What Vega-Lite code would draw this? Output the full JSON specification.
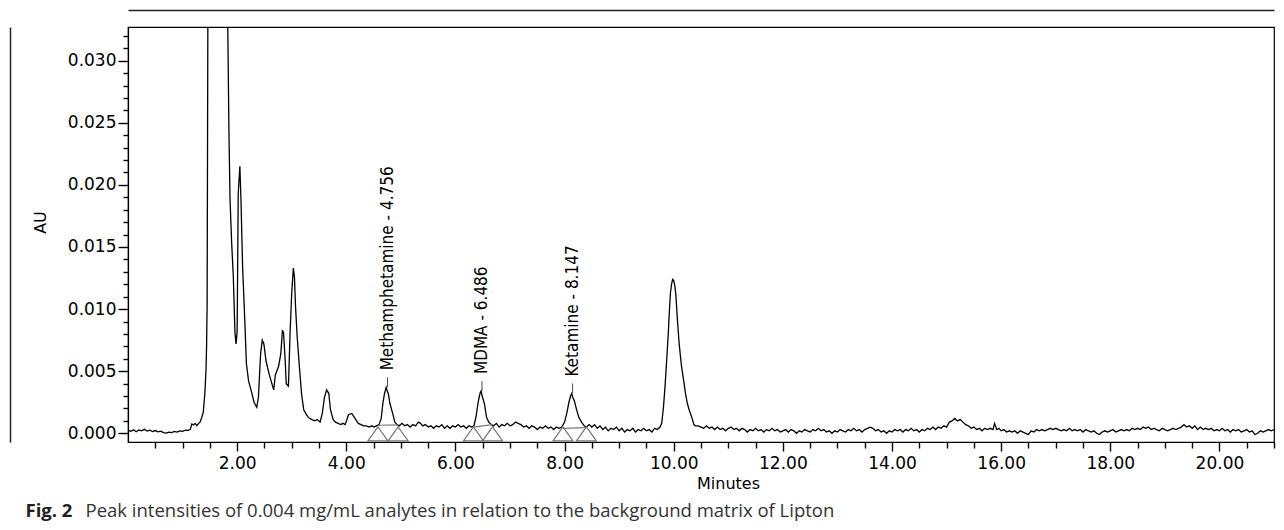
{
  "$schema": "https://vega.github.io/schema/vega-lite/v6.json",
  "autosize": {"type": "none"},
  "padding": {"left": 128, "top": 27, "right": 10, "bottom": 88},
  "width": 1146,
  "height": 415,
  "background": "white",
  "datasets": {
    "trace": [
      {"t":0,"v":0.00025},{"t":0.05,"v":0.00016},{"t":0.1,"v":0.00028},{"t":0.15,"v":0.00012},{"t":0.2,"v":0.00026},
      {"t":0.25,"v":0.0002},{"t":0.3,"v":0.00032},{"t":0.35,"v":0.00018},{"t":0.4,"v":0.00025},{"t":0.45,"v":0.00014},
      {"t":0.5,"v":0.00022},{"t":0.55,"v":0.00012},{"t":0.6,"v":0.00017},{"t":0.65,"v":0.00006},{"t":0.7,"v":0.00002},
      {"t":0.75,"v":0.0001},{"t":0.8,"v":0.00005},{"t":0.85,"v":0.00015},{"t":0.9,"v":0.0001},{"t":0.95,"v":0.0002},
      {"t":1,"v":0.00016},{"t":1.05,"v":0.00026},{"t":1.1,"v":0.00024},{"t":1.14,"v":0.0003},{"t":1.17,"v":0.00075},
      {"t":1.2,"v":0.00068},{"t":1.23,"v":0.0008},{"t":1.26,"v":0.00062},{"t":1.29,"v":0.00078},{"t":1.32,"v":0.0009},
      {"t":1.35,"v":0.00125},{"t":1.38,"v":0.0017},{"t":1.41,"v":0.0033},{"t":1.43,"v":0.0052},{"t":1.44,"v":0.007},
      {"t":1.45,"v":0.0105},{"t":1.455,"v":0.019},{"t":1.465,"v":0.036},{"t":1.55,"v":0.05},{"t":1.65,"v":0.06},
      {"t":1.75,"v":0.05},{"t":1.815,"v":0.038},{"t":1.83,"v":0.032},{"t":1.85,"v":0.0242},{"t":1.87,"v":0.0188},
      {"t":1.9,"v":0.0153},{"t":1.93,"v":0.0126},{"t":1.96,"v":0.0081},{"t":1.98,"v":0.0072},{"t":2,"v":0.0082},
      {"t":2.02,"v":0.0193},{"t":2.05,"v":0.0215},{"t":2.07,"v":0.0188},{"t":2.1,"v":0.0134},{"t":2.14,"v":0.0091},
      {"t":2.17,"v":0.0056},{"t":2.21,"v":0.0042},{"t":2.26,"v":0.0034},{"t":2.31,"v":0.0025},{"t":2.36,"v":0.0021},
      {"t":2.39,"v":0.0029},{"t":2.43,"v":0.0064},{"t":2.46,"v":0.0075},{"t":2.49,"v":0.0072},{"t":2.53,"v":0.0058},
      {"t":2.59,"v":0.0047},{"t":2.65,"v":0.0038},{"t":2.67,"v":0.0035},{"t":2.7,"v":0.0047},{"t":2.76,"v":0.0054},
      {"t":2.8,"v":0.0064},{"t":2.83,"v":0.0083},{"t":2.85,"v":0.0081},{"t":2.88,"v":0.0059},{"t":2.9,"v":0.004},
      {"t":2.94,"v":0.0038},{"t":2.97,"v":0.0081},{"t":3,"v":0.0113},{"t":3.03,"v":0.0133},{"t":3.05,"v":0.0126},
      {"t":3.07,"v":0.0102},{"t":3.1,"v":0.0078},{"t":3.14,"v":0.0054},{"t":3.18,"v":0.0032},{"t":3.22,"v":0.0019},
      {"t":3.27,"v":0.0015},{"t":3.3,"v":0.0013},{"t":3.33,"v":0.0012},{"t":3.37,"v":0.0011},{"t":3.42,"v":0.001},
      {"t":3.47,"v":0.0011},{"t":3.52,"v":0.0009},{"t":3.56,"v":0.0016},{"t":3.6,"v":0.0029},{"t":3.64,"v":0.0035},
      {"t":3.68,"v":0.0032},{"t":3.71,"v":0.0019},{"t":3.76,"v":0.0011},{"t":3.8,"v":0.0009},{"t":3.85,"v":0.0008},
      {"t":3.9,"v":0.0007},{"t":3.94,"v":0.0008},{"t":3.98,"v":0.0007},{"t":4.04,"v":0.0015},{"t":4.1,"v":0.0016},
      {"t":4.16,"v":0.0012},{"t":4.22,"v":0.0008},{"t":4.27,"v":0.0007},{"t":4.32,"v":0.0006},{"t":4.37,"v":0.0006},
      {"t":4.42,"v":0.0005},{"t":4.47,"v":0.0006},{"t":4.51,"v":0.0005},{"t":4.55,"v":0.0006},{"t":4.6,"v":0.0007},
      {"t":4.64,"v":0.0012},{"t":4.67,"v":0.0024},{"t":4.7,"v":0.0032},{"t":4.73,"v":0.0037},{"t":4.75,"v":0.0034},
      {"t":4.77,"v":0.0032},{"t":4.8,"v":0.0024},{"t":4.85,"v":0.0016},{"t":4.89,"v":0.0009},{"t":4.93,"v":0.0007},
      {"t":4.97,"v":0.0006},{"t":5.02,"v":0.0008},{"t":5.07,"v":0.0006},{"t":5.12,"v":0.0007},{"t":5.17,"v":0.0005},
      {"t":5.22,"v":0.0007},{"t":5.27,"v":0.0006},{"t":5.32,"v":0.0009},{"t":5.36,"v":0.0008},{"t":5.4,"v":0.0006},
      {"t":5.45,"v":0.0007},{"t":5.5,"v":0.0005},{"t":5.55,"v":0.0006},{"t":5.6,"v":0.0004},{"t":5.65,"v":0.0006},
      {"t":5.7,"v":0.0005},{"t":5.75,"v":0.0007},{"t":5.8,"v":0.0004},{"t":5.85,"v":0.0006},{"t":5.9,"v":0.0004},
      {"t":5.95,"v":0.0006},{"t":6,"v":0.0005},{"t":6.05,"v":0.0007},{"t":6.1,"v":0.0005},{"t":6.15,"v":0.0006},
      {"t":6.2,"v":0.0004},{"t":6.25,"v":0.0006},{"t":6.3,"v":0.0005},{"t":6.34,"v":0.0006},{"t":6.38,"v":0.0014},
      {"t":6.42,"v":0.0026},{"t":6.45,"v":0.0032},{"t":6.47,"v":0.0034},{"t":6.49,"v":0.003},{"t":6.51,"v":0.0027},
      {"t":6.53,"v":0.0024},{"t":6.57,"v":0.0013},{"t":6.61,"v":0.0009},{"t":6.66,"v":0.0007},{"t":6.7,"v":0.0006},
      {"t":6.75,"v":0.0008},{"t":6.8,"v":0.0005},{"t":6.85,"v":0.0007},{"t":6.9,"v":0.0006},{"t":6.95,"v":0.0008},
      {"t":7,"v":0.0006},{"t":7.05,"v":0.0007},{"t":7.1,"v":0.0009},{"t":7.15,"v":0.0008},{"t":7.2,"v":0.0007},
      {"t":7.25,"v":0.0005},{"t":7.3,"v":0.0006},{"t":7.35,"v":0.0004},{"t":7.4,"v":0.0006},{"t":7.45,"v":0.0005},
      {"t":7.5,"v":0.0003},{"t":7.55,"v":0.0005},{"t":7.6,"v":0.0004},{"t":7.65,"v":0.0006},{"t":7.7,"v":0.0004},
      {"t":7.75,"v":0.0005},{"t":7.8,"v":0.0003},{"t":7.85,"v":0.0005},{"t":7.9,"v":0.0004},{"t":7.95,"v":0.0005},
      {"t":8,"v":0.0009},{"t":8.04,"v":0.0016},{"t":8.08,"v":0.0025},{"t":8.11,"v":0.003},{"t":8.13,"v":0.0032},
      {"t":8.15,"v":0.0029},{"t":8.18,"v":0.0026},{"t":8.22,"v":0.0019},{"t":8.26,"v":0.0013},{"t":8.31,"v":0.0009},
      {"t":8.36,"v":0.0006},{"t":8.4,"v":0.0005},{"t":8.45,"v":0.0007},{"t":8.5,"v":0.0005},{"t":8.55,"v":0.0007},
      {"t":8.6,"v":0.0004},{"t":8.65,"v":0.0006},{"t":8.7,"v":0.0003},{"t":8.75,"v":0.0005},{"t":8.8,"v":0.0002},
      {"t":8.85,"v":0.0004},{"t":8.9,"v":0.0003},{"t":8.95,"v":0.0005},{"t":9,"v":0.0002},{"t":9.05,"v":0.0004},
      {"t":9.1,"v":0.0001},{"t":9.15,"v":0.0003},{"t":9.2,"v":0.0002},{"t":9.25,"v":0.0004},{"t":9.3,"v":0.0001},
      {"t":9.35,"v":0.0003},{"t":9.4,"v":0.0002},{"t":9.45,"v":0.0004},{"t":9.5,"v":0.0002},{"t":9.55,"v":0.0003},
      {"t":9.6,"v":0.0001},{"t":9.65,"v":0.0004},{"t":9.7,"v":0.0003},{"t":9.75,"v":0.0005},{"t":9.78,"v":0.0008},
      {"t":9.81,"v":0.002},{"t":9.84,"v":0.0037},{"t":9.87,"v":0.0058},{"t":9.9,"v":0.008},{"t":9.92,"v":0.0098},
      {"t":9.94,"v":0.0113},{"t":9.96,"v":0.012},{"t":9.98,"v":0.0124},{"t":10,"v":0.0123},{"t":10.02,"v":0.0119},
      {"t":10.04,"v":0.0111},{"t":10.07,"v":0.009},{"t":10.1,"v":0.0072},{"t":10.14,"v":0.0055},{"t":10.18,"v":0.0043},
      {"t":10.22,"v":0.0031},{"t":10.25,"v":0.0024},{"t":10.29,"v":0.0018},{"t":10.33,"v":0.0013},{"t":10.37,"v":0.0007},
      {"t":10.4,"v":0.0006},{"t":10.45,"v":0.0006},{"t":10.5,"v":0.0005},{"t":10.55,"v":0.0004},{"t":10.6,"v":0.0006},
      {"t":10.65,"v":0.0004},{"t":10.7,"v":0.0005},{"t":10.75,"v":0.0003},{"t":10.8,"v":0.0005},{"t":10.85,"v":0.0003},
      {"t":10.9,"v":0.0004},{"t":10.95,"v":0.0002},{"t":11,"v":0.0004},{"t":11.05,"v":0.0005},{"t":11.1,"v":0.0003},
      {"t":11.15,"v":0.0004},{"t":11.2,"v":0.0002},{"t":11.25,"v":0.0004},{"t":11.3,"v":0.0003},{"t":11.35,"v":0.0001},
      {"t":11.4,"v":0.0003},{"t":11.45,"v":0.0002},{"t":11.5,"v":0.0004},{"t":11.55,"v":0.0002},{"t":11.6,"v":0.0003},
      {"t":11.65,"v":0.0001},{"t":11.7,"v":0.0003},{"t":11.75,"v":0.0002},{"t":11.8,"v":0.0004},{"t":11.85,"v":0.0002},
      {"t":11.9,"v":0.0003},{"t":11.95,"v":0.0001},{"t":12,"v":0.0002},{"t":12.05,"v":0.0003},{"t":12.1,"v":0.0001},
      {"t":12.15,"v":0.0003},{"t":12.2,"v":0.0002},{"t":12.25,"v":0},{"t":12.3,"v":0.0002},{"t":12.35,"v":0.0001},
      {"t":12.4,"v":0.0003},{"t":12.45,"v":0.0002},{"t":12.5,"v":0.0001},{"t":12.55,"v":0.0003},{"t":12.6,"v":0.0002},
      {"t":12.65,"v":0.0004},{"t":12.7,"v":0.0002},{"t":12.75,"v":0.0003},{"t":12.8,"v":0.0001},{"t":12.85,"v":0.0002},
      {"t":12.9,"v":0},{"t":12.95,"v":0.0002},{"t":13,"v":0.0001},{"t":13.05,"v":0.0003},{"t":13.1,"v":0.0002},
      {"t":13.15,"v":0.0001},{"t":13.2,"v":0.0003},{"t":13.25,"v":0.0002},{"t":13.3,"v":0.0004},{"t":13.35,"v":0.0002},
      {"t":13.4,"v":0.0003},{"t":13.45,"v":0.0001},{"t":13.5,"v":0.0003},{"t":13.55,"v":0.0004},{"t":13.6,"v":0.0005},
      {"t":13.65,"v":0.0004},{"t":13.7,"v":0.0002},{"t":13.75,"v":0.0003},{"t":13.8,"v":0.0001},{"t":13.85,"v":0.0002},
      {"t":13.9,"v":0},{"t":13.95,"v":0.0002},{"t":14,"v":0.0001},{"t":14.05,"v":0.0003},{"t":14.1,"v":0.0002},
      {"t":14.15,"v":0.0003},{"t":14.2,"v":0.0001},{"t":14.25,"v":0.0003},{"t":14.3,"v":0.0002},{"t":14.35,"v":0.0004},
      {"t":14.4,"v":0.0002},{"t":14.45,"v":0.0003},{"t":14.5,"v":0.0001},{"t":14.55,"v":0.0003},{"t":14.6,"v":0.0002},
      {"t":14.65,"v":0.0004},{"t":14.7,"v":0.0003},{"t":14.75,"v":0.0005},{"t":14.8,"v":0.0003},{"t":14.85,"v":0.0005},
      {"t":14.9,"v":0.0004},{"t":14.95,"v":0.0006},{"t":15,"v":0.0005},{"t":15.05,"v":0.0009},{"t":15.1,"v":0.001},
      {"t":15.15,"v":0.0012},{"t":15.2,"v":0.001},{"t":15.25,"v":0.0011},{"t":15.3,"v":0.0009},{"t":15.35,"v":0.0007},
      {"t":15.4,"v":0.0006},{"t":15.45,"v":0.0004},{"t":15.5,"v":0.0005},{"t":15.55,"v":0.0003},{"t":15.6,"v":0.0004},
      {"t":15.65,"v":0.0002},{"t":15.7,"v":0.0004},{"t":15.75,"v":0.0003},{"t":15.8,"v":0.0004},{"t":15.85,"v":0.0003},
      {"t":15.88,"v":0.0008},{"t":15.92,"v":0.0003},{"t":15.96,"v":0.0004},{"t":16,"v":0.0002},{"t":16.05,"v":0.0003},
      {"t":16.1,"v":0.0001},{"t":16.15,"v":0.0002},{"t":16.2,"v":0.0001},{"t":16.25,"v":0.0002},{"t":16.3,"v":0},
      {"t":16.35,"v":0.0002},{"t":16.4,"v":0.0001},{"t":16.45,"v":0},{"t":16.5,"v":-0.0001},{"t":16.55,"v":0.0002},
      {"t":16.6,"v":0.0001},{"t":16.65,"v":0.0003},{"t":16.7,"v":0.0002},{"t":16.75,"v":0.0003},{"t":16.8,"v":0.0002},
      {"t":16.85,"v":0.0003},{"t":16.9,"v":0.0004},{"t":16.95,"v":0.0003},{"t":17,"v":0.0004},{"t":17.05,"v":0.0003},
      {"t":17.1,"v":0.0002},{"t":17.15,"v":0.0003},{"t":17.2,"v":0.0002},{"t":17.25,"v":0.0004},{"t":17.3,"v":0.0002},
      {"t":17.35,"v":0.0003},{"t":17.4,"v":0.0002},{"t":17.45,"v":0.0003},{"t":17.5,"v":0.0001},{"t":17.55,"v":0.0003},
      {"t":17.6,"v":0.0002},{"t":17.65,"v":0.0001},{"t":17.7,"v":0.0002},{"t":17.75,"v":0},{"t":17.8,"v":-0.0001},
      {"t":17.85,"v":0.0001},{"t":17.9,"v":0.0002},{"t":17.95,"v":0.0001},{"t":18,"v":0.0002},{"t":18.05,"v":0.0003},
      {"t":18.1,"v":0.0001},{"t":18.15,"v":0.0002},{"t":18.2,"v":0.0003},{"t":18.25,"v":0.0002},{"t":18.3,"v":0.0003},
      {"t":18.35,"v":0.0002},{"t":18.4,"v":0.0004},{"t":18.45,"v":0.0003},{"t":18.5,"v":0.0004},{"t":18.55,"v":0.0003},
      {"t":18.6,"v":0.0005},{"t":18.65,"v":0.0004},{"t":18.7,"v":0.0005},{"t":18.75,"v":0.0003},{"t":18.8,"v":0.0004},
      {"t":18.85,"v":0.0003},{"t":18.9,"v":0.0002},{"t":18.95,"v":0.0004},{"t":19,"v":0.0003},{"t":19.05,"v":0.0002},
      {"t":19.1,"v":0.0003},{"t":19.15,"v":0.0004},{"t":19.2,"v":0.0003},{"t":19.25,"v":0.0004},{"t":19.3,"v":0.0005},
      {"t":19.35,"v":0.0007},{"t":19.4,"v":0.0005},{"t":19.45,"v":0.0006},{"t":19.5,"v":0.0004},{"t":19.55,"v":0.0006},
      {"t":19.6,"v":0.0003},{"t":19.65,"v":0.0005},{"t":19.7,"v":0.0003},{"t":19.75,"v":0.0004},{"t":19.8,"v":0.0003},
      {"t":19.85,"v":0.0004},{"t":19.9,"v":0.0002},{"t":19.95,"v":0.0003},{"t":20,"v":0.0002},{"t":20.05,"v":0.0004},
      {"t":20.1,"v":0.0002},{"t":20.15,"v":0.0003},{"t":20.2,"v":0.0001},{"t":20.25,"v":0.0003},{"t":20.3,"v":0.0002},
      {"t":20.35,"v":0.0003},{"t":20.4,"v":0.0001},{"t":20.45,"v":0.0002},{"t":20.5,"v":0.0003},{"t":20.55,"v":0.0001},
      {"t":20.6,"v":0.0002},{"t":20.65,"v":-0.0001},{"t":20.7,"v":0},{"t":20.75,"v":0.0002},{"t":20.8,"v":0.0001},
      {"t":20.85,"v":0.0002},{"t":20.9,"v":0.0003},{"t":20.95,"v":0.0002},{"t":21,"v":0.0003}
    ],
    "peaks": [
      {"label":"Methamphetamine - 4.756","rt":4.756,"apex":0.0037,"start":4.58,"end":4.95,"b1":0.00065,"b2":0.00068},
      {"label":"MDMA - 6.486","rt":6.486,"apex":0.0034,"start":6.33,"end":6.68,"b1":0.0005,"b2":0.0007},
      {"label":"Ketamine - 8.147","rt":8.147,"apex":0.0032,"start":7.97,"end":8.4,"b1":0.0004,"b2":0.00045}
    ]
  },
  "config": {
    "view": {"stroke": "black", "strokeWidth": 1.2},
    "axis": {
      "grid": false,
      "domainColor": "black",
      "domainWidth": 1.2,
      "tickColor": "black",
      "tickWidth": 1.4,
      "labelColor": "black",
      "labelFont": "DejaVu Sans",
      "labelFontSize": 17,
      "titleFont": "DejaVu Sans",
      "titleFontSize": 16,
      "titleFontWeight": "normal",
      "titleColor": "black"
    }
  },
  "resolve": {"axis": {"x": "independent", "y": "independent"}},
  "layer": [
    {
      "data": {"name": "trace"},
      "mark": {"type": "line", "color": "black", "strokeWidth": 1.3, "clip": true},
      "encoding": {
        "x": {
          "field": "t", "type": "quantitative",
          "scale": {"domain": [0, 21], "nice": false, "zero": false},
          "axis": {
            "orient": "bottom",
            "values": [2, 4, 6, 8, 10, 12, 14, 16, 18, 20],
            "tickCount": 50,
            "format": ".2f",
            "tickSize": 9,
            "labelPadding": 4,
            "title": "Minutes",
            "titleX": 600,
            "titleY": 41,
            "titleAlign": "center",
            "titleBaseline": "middle"
          }
        },
        "y": {
          "field": "v", "type": "quantitative",
          "scale": {"domain": [-0.0007, 0.03271], "nice": false, "zero": false},
          "axis": {
            "orient": "left",
            "values": [0, 0.005, 0.01, 0.015, 0.02, 0.025, 0.03],
            "tickCount": 50,
            "format": ".3f",
            "tickSize": 10,
            "labelPadding": 2,
            "title": "AU",
            "titleX": -88,
            "titleY": 195,
            "titleAngle": 270,
            "titleAlign": "center",
            "titleBaseline": "middle"
          }
        }
      }
    },
    {
      "data": {"name": "trace"},
      "mark": {"type": "line", "opacity": 0},
      "encoding": {
        "x": {
          "field": "t", "type": "quantitative",
          "axis": {
            "orient": "bottom",
            "values": [0.5, 1, 1.5, 2.5, 3, 3.5, 4.5, 5, 5.5, 6.5, 7, 7.5, 8.5, 9, 9.5, 10.5, 11, 11.5, 12.5, 13, 13.5, 14.5, 15, 15.5, 16.5, 17, 17.5, 18.5, 19, 19.5, 20.5, 21],
            "tickCount": 50,
            "labels": false,
            "domain": false,
            "tickSize": 6,
            "tickColor": "black",
            "tickWidth": 1.4,
            "title": "Peak intensities of 0.004 mg/mL analytes in relation to the background matrix of Lipton",
            "titleX": -43,
            "titleY": 68,
            "titleAlign": "left",
            "titleBaseline": "middle",
            "titleFont": "Open Sans",
            "titleFontSize": 18.5,
            "titleFontWeight": "normal",
            "titleColor": "#333333"
          }
        },
        "y": {
          "field": "v", "type": "quantitative",
          "axis": {
            "orient": "left",
            "values": [0.001, 0.002, 0.003, 0.004, 0.006, 0.007, 0.008, 0.009, 0.011, 0.012, 0.013, 0.014, 0.016, 0.017, 0.018, 0.019, 0.021, 0.022, 0.023, 0.024, 0.026, 0.027, 0.028, 0.029, 0.031, 0.032],
            "tickCount": 50,
            "labels": false,
            "domain": false,
            "tickSize": 5,
            "tickColor": "black",
            "tickWidth": 1.4,
            "title": "Fig. 2",
            "titleX": -103,
            "titleY": 483,
            "titleAngle": 0,
            "titleAlign": "left",
            "titleBaseline": "middle",
            "titleFont": "Open Sans",
            "titleFontSize": 18.5,
            "titleFontWeight": "bold",
            "titleColor": "#231f20"
          }
        }
      }
    },
    {
      "data": {"name": "peaks"},
      "mark": {"type": "rule", "color": "#777777", "strokeWidth": 1.2},
      "encoding": {
        "x": {"field": "start", "type": "quantitative", "axis": null},
        "x2": {"field": "end"},
        "y": {"field": "b1", "type": "quantitative", "axis": null},
        "y2": {"field": "b2"}
      }
    },
    {
      "data": {"name": "peaks"},
      "transform": [{"fold": ["start", "end"], "as": ["edge", "time"]}],
      "mark": {"type": "point", "shape": "M0,-0.7L1,0.7L-1,0.7Z", "size": 400, "filled": false, "stroke": "#777777", "strokeWidth": 1.2, "opacity": 1, "yOffset": 0.6},
      "encoding": {
        "x": {
          "field": "time", "type": "quantitative",
          "axis": {"orient": "top", "offset": 17, "ticks": false, "labels": false, "domain": true, "domainColor": "#222222", "domainWidth": 1.5, "title": null}
        },
        "y": {"datum": 0, "type": "quantitative", "axis": null}
      }
    },
    {
      "data": {"name": "peaks"},
      "mark": {"type": "tick", "orient": "vertical", "size": 10, "thickness": 1, "color": "black", "yOffset": -5},
      "encoding": {
        "x": {"field": "rt", "type": "quantitative", "axis": null},
        "y": {
          "field": "apex", "type": "quantitative",
          "axis": {"orient": "left", "offset": 118, "ticks": false, "labels": false, "domain": true, "domainColor": "#222222", "domainWidth": 1.5, "title": null}
        }
      }
    },
    {
      "data": {"name": "peaks"},
      "mark": {"type": "text", "angle": 270, "align": "left", "baseline": "middle", "dx": 17, "font": "DejaVu Sans Condensed, Roboto, Liberation Sans, sans-serif", "fontSize": 17, "color": "black"},
      "encoding": {
        "x": {"field": "rt", "type": "quantitative", "axis": null},
        "y": {"field": "apex", "type": "quantitative", "axis": null},
        "text": {"field": "label"}
      }
    }
  ]
}
